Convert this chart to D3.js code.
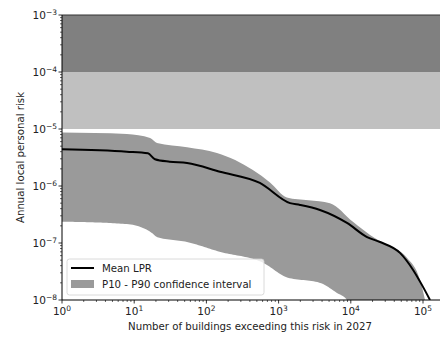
<!DOCTYPE html>
<html>
<head>
<meta charset="utf-8">
<script src="https://cdn.jsdelivr.net/npm/d3@7"></script>
<style>
  body { margin: 0; background: #fff; }
  svg { display: block; }
  text { font-family: "DejaVu Sans", sans-serif; fill: #222; }
</style>
</head>
<body>
<div id="chart"></div>
<script>
// risk bands
var bandLow  = [1e-5, 1e-4];
var bandHigh = [1e-4, 1e-3];
var bandFill = ['#c0c0c0', '#808080'];

// mean LPR curve
var meanN   = [1, 7.9, 15.5, 19.4, 31, 54, 154, 550, 1440, 1980, 3740, 8850, 16800, 25400, 48000, 72600, 100000, 125000];
var meanLPR = [4.4e-6, 4.0e-6, 3.75e-6, 2.95e-6, 2.67e-6, 2.53e-6, 1.78e-6, 1.13e-6, 5.0e-7, 4.65e-7, 3.8e-7, 2.25e-7, 1.27e-7, 1.04e-7, 6.7e-8, 3.4e-8, 1.7e-8, 1.0e-8];

// P90 upper edge of band
var p90N = [1, 7.9, 16.6, 20.7, 54, 140, 250, 440, 760, 1300, 2600, 5150, 10700, 18500, 31700, 60000, 90800, 106600];
var p90  = [8.7e-6, 8.2e-6, 6.95e-6, 5.7e-6, 4.8e-6, 3.8e-6, 2.85e-6, 1.9e-6, 1.15e-6, 6.3e-7, 5.6e-7, 5.0e-7, 2.35e-7, 1.38e-7, 9.2e-8, 5.5e-8, 2.25e-8, 1.0e-8];

// P10 lower edge of band
var p10N = [1, 7.9, 17.6, 20.7, 54, 154, 610, 1300, 3740, 6440, 8850];
var p10  = [2.37e-7, 2.15e-7, 1.5e-7, 1.27e-7, 1.04e-7, 7.0e-8, 4.5e-8, 2.5e-8, 2.0e-8, 1.33e-8, 1.0e-8];

var xTicks = [1, 10, 100, 1000, 10000, 100000];
var xTickExp = ['0', '1', '2', '3', '4', '5'];
var yTicks = [1e-8, 1e-7, 1e-6, 1e-5, 1e-4, 1e-3];
var yTickExp = ['\u22128', '\u22127', '\u22126', '\u22125', '\u22124', '\u22123'];

var width = 440, height = 337;
var plotLeft = 62, plotTop = 15, plotBottom = 300;
var decadeX = 72.2;

var svg = d3.select('#chart').append('svg')
	.attr('width', width)
	.attr('height', height);

var x = d3.scaleLog()
	.domain([1, Math.pow(10, 5.3)])
	.range([plotLeft, plotLeft + decadeX * 5.3]);

var y = d3.scaleLog()
	.domain([1e-8, 1e-3])
	.range([plotBottom, plotTop]);

svg.append('clipPath').attr('id', 'plotclip')
	.append('rect')
	.attr('x', plotLeft).attr('y', plotTop)
	.attr('width', width - plotLeft).attr('height', plotBottom - plotTop);

var plot = svg.append('g').attr('clip-path', 'url(#plotclip)');

// horizontal risk bands
plot.selectAll('rect.band')
	.data(bandLow)
	.enter()
	.append('rect')
	.attr('class', 'band')
	.attr('x', plotLeft)
	.attr('width', width - plotLeft + 10)
	.attr('y', function(d, i) { return y(bandHigh[i]); })
	.attr('height', function(d, i) { return y(d) - y(bandHigh[i]); })
	.style('fill', function(d, i) { return bandFill[i]; });

// confidence interval polygon: P90 edge forward, P10 edge back
var edge = d3.line().curve(d3.curveMonotoneX);
var upperPts = p90N.map(function(n, i) { return [x(n), y(p90[i])]; });
upperPts.push([x(p90N[p90N.length - 1]) + 1, plotBottom + 5]);
var lowerPts = p10N.map(function(n, i) { return [x(n), y(p10[i])]; });
lowerPts.push([x(p10N[p10N.length - 1]) + 1, plotBottom + 5]);

// the lower edge is drawn left-to-right too, then the two are joined
var upperD = edge(upperPts);
var lowerPath = plot.append('path').attr('d', edge(lowerPts)).node();
var lowerLen = lowerPath.getTotalLength();
var back = [];
for (var s = lowerLen; s >= 0; s -= 2) {
	var p = lowerPath.getPointAtLength(s);
	back.push([p.x, p.y]);
}
back.push([lowerPts[0][0], lowerPts[0][1]]);
lowerPath.remove();

plot.append('path')
	.attr('d', upperD + 'L' + back.join('L') + 'Z')
	.style('fill', '#9a9a9a');

// mean line
var meanLine = d3.line()
	.x(function(d) { return x(d[0]); })
	.y(function(d) { return y(d[1]); })
	.curve(d3.curveMonotoneX);

plot.append('path')
	.datum(meanN.map(function(n, i) { return [n, meanLPR[i]]; }))
	.attr('d', meanLine)
	.style('fill', 'none')
	.style('stroke', '#000')
	.style('stroke-width', 2);

// spines
svg.append('line').attr('x1', plotLeft).attr('x2', width).attr('y1', plotTop).attr('y2', plotTop)
	.style('stroke', '#333').style('stroke-width', 1);
svg.append('line').attr('x1', plotLeft).attr('x2', plotLeft).attr('y1', plotTop).attr('y2', plotBottom)
	.style('stroke', '#000').style('stroke-width', 1);
svg.append('line').attr('x1', plotLeft).attr('x2', width).attr('y1', plotBottom).attr('y2', plotBottom)
	.style('stroke', '#000').style('stroke-width', 1);

// minor ticks
var xMinor = [];
for (var e = 0; e < 6; e++) for (var k = 2; k < 10; k++) xMinor.push(k * Math.pow(10, e));
var yMinor = [];
for (var e2 = -8; e2 < -3; e2++) for (var k2 = 2; k2 < 10; k2++) yMinor.push(k2 * Math.pow(10, e2));

var axes = svg.append('g');
axes.selectAll('line.xminor').data(xMinor.filter(function(d) { return x(d) < width; }))
	.enter().append('line')
	.attr('x1', function(d) { return x(d); }).attr('x2', function(d) { return x(d); })
	.attr('y1', plotBottom).attr('y2', plotBottom + 2)
	.style('stroke', '#000').style('stroke-width', 0.6);
axes.selectAll('line.yminor').data(yMinor)
	.enter().append('line')
	.attr('x1', plotLeft - 2).attr('x2', plotLeft)
	.attr('y1', function(d) { return y(d); }).attr('y2', function(d) { return y(d); })
	.style('stroke', '#000').style('stroke-width', 0.6);

// major ticks
axes.selectAll('line.xmajor').data(xTicks)
	.enter().append('line')
	.attr('x1', function(d) { return x(d); }).attr('x2', function(d) { return x(d); })
	.attr('y1', plotBottom).attr('y2', plotBottom + 3.5)
	.style('stroke', '#000').style('stroke-width', 0.8);
axes.selectAll('line.ymajor').data(yTicks)
	.enter().append('line')
	.attr('x1', plotLeft - 3.5).attr('x2', plotLeft)
	.attr('y1', function(d) { return y(d); }).attr('y2', function(d) { return y(d); })
	.style('stroke', '#000').style('stroke-width', 0.8);

// tick labels
var xl = axes.selectAll('text.xtick').data(xTicks)
	.enter().append('text')
	.attr('x', function(d) { return x(d); })
	.attr('y', plotBottom + 15)
	.attr('text-anchor', 'middle')
	.attr('font-size', '10.5px');
xl.append('tspan').text('10');
xl.append('tspan').attr('dy', -4.5).attr('font-size', '7.5px').text(function(d, i) { return xTickExp[i]; });

var yl = axes.selectAll('text.ytick').data(yTicks)
	.enter().append('text')
	.attr('x', plotLeft - 5)
	.attr('y', function(d) { return y(d) + 4; })
	.attr('text-anchor', 'end')
	.attr('font-size', '10.5px');
yl.append('tspan').text('10');
yl.append('tspan').attr('dy', -4.5).attr('font-size', '7.5px').text(function(d, i) { return yTickExp[i]; });

// axis titles
svg.append('text')
	.attr('x', 250)
	.attr('y', 330)
	.attr('text-anchor', 'middle')
	.attr('font-size', '10.2px')
	.text('Number of buildings exceeding this risk in 2027');

svg.append('text')
	.attr('transform', 'translate(24,' + ((plotTop + plotBottom) / 2) + ') rotate(-90)')
	.attr('text-anchor', 'middle')
	.attr('font-size', '10.2px')
	.text('Annual local personal risk');

// legend
var legend = svg.append('g');
legend.append('rect')
	.attr('x', 67).attr('y', 259)
	.attr('width', 197).attr('height', 36)
	.attr('rx', 2.5)
	.style('fill', 'rgba(255,255,255,0.8)')
	.style('stroke', '#d0d0d0')
	.style('stroke-width', 0.8);
legend.append('line')
	.attr('x1', 71).attr('x2', 94).attr('y1', 268).attr('y2', 268)
	.style('stroke', '#000').style('stroke-width', 2);
legend.append('text')
	.attr('x', 102).attr('y', 272)
	.attr('font-size', '10.2px')
	.text('Mean LPR');
legend.append('rect')
	.attr('x', 71).attr('y', 280)
	.attr('width', 23).attr('height', 8)
	.style('fill', '#9a9a9a');
legend.append('text')
	.attr('x', 102).attr('y', 288)
	.attr('font-size', '10.2px')
	.text('P10 - P90 confidence interval');
</script>
</body>
</html>
